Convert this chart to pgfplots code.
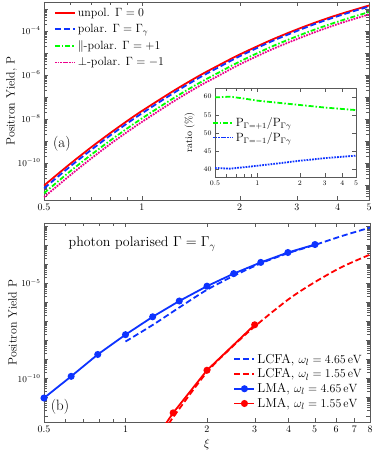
\documentclass[border=0pt]{standalone}
\usepackage{pgfplots}
\usepackage{pgfplotstable}
\pgfplotsset{compat=1.18}

% log10 of the yields, panel (a)
\pgfplotstableread{
x    r      b      g      m
0.5  -11.04 -11.17 -11.39 -11.57
0.6  -10.07 -10.19 -10.41 -10.59
0.7  -9.29  -9.41  -9.63  -9.80
0.8  -8.65  -8.76  -8.99  -9.15
0.9  -8.11  -8.22  -8.45  -8.61
1.0  -7.65  -7.76  -7.99  -8.15
1.25 -6.74  -6.84  -7.07  -7.22
1.5  -6.05  -6.14  -6.38  -6.52
1.75 -5.52  -5.61  -5.85  -5.99
2.0  -5.08  -5.16  -5.40  -5.53
2.5  -4.42  -4.49  -4.73  -4.86
3.0  -3.94  -4.01  -4.25  -4.38
3.5  -3.57  -3.63  -3.88  -4.00
4.0  -3.28  -3.34  -3.59  -3.70
4.5  -3.05  -3.10  -3.35  -3.46
5.0  -2.85  -2.90  -3.15  -3.26
}\tabA

% ratios in %, inset
\pgfplotstableread{
x    g    m
0.5  59.8 40.3
0.64 60.0 40.1
0.8  59.5 40.5
1.0  58.9 40.9
1.5  58.2 41.7
2.0  57.7 42.3
3.0  57.0 43.0
4.0  56.6 43.4
5.0  56.3 43.7
}\tabRatio

% panel (b), log10 values
\pgfplotstableread{
x    lg
0.5  -11.04
0.63 -9.90
0.79 -8.75
1.0  -7.71
1.26 -6.77
1.58 -5.94
2.0  -5.16
2.51 -4.50
3.16 -3.91
3.98 -3.39
5.01 -2.97
}\lmaHi
\pgfplotstableread{
x    lg
1.0  -8.07
1.26 -7.20
1.58 -6.28
2.0  -5.35
2.51 -4.62
3.16 -3.96
3.98 -3.43
5.01 -2.99
6.31 -2.52
8.0  -2.08
}\lcfaHi
\pgfplotstableread{
x    lg
1.26 -13.4
1.5  -11.82
2.0  -9.58
3.0  -7.19
}\lmaLo
\pgfplotstableread{
x    lg
1.45 -12.4
1.5  -12.05
2.0  -9.68
2.5  -8.30
3.0  -7.28
4.0  -5.85
5.0  -4.95
6.3  -4.15
8.0  -3.50
}\lcfaLo

\definecolor{cblue}{rgb}{0.05,0.2,1}

\pgfplotsset{
  every axis/.append style={scale only axis,
    axis line style={black!65}, every tick/.append style={black!65},
    tick label style={font=\normalsize}, yticklabel style={font=\small},
    label style={font=\large}, legend cell align=left},
  legend image code/.code={\draw[mark repeat=2,mark phase=2,#1,sharp plot] plot coordinates {(0bp,0bp) (10bp,0bp) (20bp,0bp)};},
}

\begin{document}
\begin{tikzpicture}
\path[use as bounding box] (0,0) rectangle (374bp,453bp);

% ---------- panel (a)
\begin{axis}[xmode=log, ymode=log, at={(44bp,253bp)}, anchor=south west, width=325bp, height=198bp,
  xmin=0.5, xmax=5, ymin=2e-12, ymax=2.04e-3,
  xtick={0.5,1,2,3,4,5}, xticklabels={0.5,1,2,3,4,5}, minor xtick={0.6,0.7,0.8,0.9},
  ytick={1e-11,1e-10,1e-9,1e-8,1e-7,1e-6,1e-5,1e-4,1e-3},
  yticklabels={{},$10^{-10}$,{},$10^{-8}$,{},$10^{-6}$,{},$10^{-4}$,{}},
  minor ytick={2e-12,3e-12,4e-12,5e-12,6e-12,7e-12,8e-12,9e-12,
    2e-11,3e-11,4e-11,5e-11,6e-11,7e-11,8e-11,9e-11,
    2e-10,3e-10,4e-10,5e-10,6e-10,7e-10,8e-10,9e-10,
    2e-9,3e-9,4e-9,5e-9,6e-9,7e-9,8e-9,9e-9,
    2e-8,3e-8,4e-8,5e-8,6e-8,7e-8,8e-8,9e-8,
    2e-7,3e-7,4e-7,5e-7,6e-7,7e-7,8e-7,9e-7,
    2e-6,3e-6,4e-6,5e-6,6e-6,7e-6,8e-6,9e-6,
    2e-5,3e-5,4e-5,5e-5,6e-5,7e-5,8e-5,9e-5,
    2e-4,3e-4,4e-4,5e-4,6e-4,7e-4,8e-4,9e-4,2e-3},
  ylabel={Positron Yield, P}, ylabel style={yshift=-6pt},
  legend style={at={(0.027,0.985)}, anchor=north west, draw=none, fill=none,
    font=\large, row sep=2.5pt, inner sep=1pt}]
\addplot[red, line width=1.8pt, smooth] table[x=x, y expr={10^(\thisrow{r})}] {\tabA};
\addlegendentry{unpol. $\Gamma=0$}
\addplot[cblue, line width=1.8pt, smooth, dash pattern=on 6pt off 3pt] table[x=x, y expr={10^(\thisrow{b})}] {\tabA};
\addlegendentry{polar. $\Gamma=\Gamma_\gamma$}
\addplot[green, line width=1.8pt, smooth, dash pattern=on 5pt off 2pt on 1.5pt off 2pt] table[x=x, y expr={10^(\thisrow{g})}] {\tabA};
\addlegendentry{$\|$-polar. $\Gamma=+1$}
\addplot[magenta, line width=1.8pt, smooth, dash pattern=on 1.7pt off 1.1pt] table[x=x, y expr={10^(\thisrow{m})}] {\tabA};
\addlegendentry{$\perp$-polar. $\Gamma=-1$}
\node[font=\fontsize{15}{17}\selectfont] at (rel axis cs:0.055,0.285) {(a)};
\end{axis}

% ---------- inset
\begin{axis}[xmode=log, at={(215bp,276bp)}, anchor=south west, width=141bp, height=89bp,
  axis background/.style={fill=white},
  xmin=0.5, xmax=5, ymin=37.8, ymax=62.4,
  xtick={0.5,1,2,3,4,5}, xticklabels={0.5,1,2,3,4,5}, minor xtick={0.6,0.7,0.8,0.9},
  ytick={40,45,50,55,60},
  tick label style={font=\scriptsize}, yticklabel style={font=\scriptsize}, label style={font=\normalsize},
  ylabel={ratio (\%)}, ylabel style={yshift=2pt},
  legend style={at={(-0.03,0.70)}, anchor=north west, draw=none, fill=none,
    font=\large, row sep=0pt, inner sep=1pt}]
\addplot[green, line width=1.8pt, dash pattern=on 5pt off 2pt on 1.5pt off 2pt] table[x=x, y=g] {\tabRatio};
\addlegendentry{$\mathrm{P}_{\Gamma=+1}/\mathrm{P}_{\Gamma\gamma}$}
\addplot[cblue, line width=1.8pt, dash pattern=on 1.7pt off 1.1pt] table[x=x, y=m] {\tabRatio};
\addlegendentry{$\mathrm{P}_{\Gamma=-1}/\mathrm{P}_{\Gamma\gamma}$}
\end{axis}

% ---------- panel (b)
\begin{axis}[xmode=log, ymode=log, at={(44bp,31bp)}, anchor=south west, width=326bp, height=199bp,
  xmin=0.5, xmax=8, ymin=5e-13, ymax=1.45e-2,
  xtick={0.5,1,2,3,4,5,6,7,8}, xticklabels={0.5,1,2,3,4,5,6,7,8}, minor xtick={0.6,0.7,0.8,0.9},
  ytick={1e-12,1e-11,1e-10,1e-9,1e-8,1e-7,1e-6,1e-5,1e-4,1e-3,1e-2},
  yticklabels={{},{},$10^{-10}$,{},{},{},{},$10^{-5}$,{},{},{}},
  xlabel={$\xi$}, ylabel={Positron Yield P}, ylabel style={yshift=-6pt},
  legend style={at={(0.985,0.05)}, anchor=south east, draw=none, fill=none,
    font=\fontsize{13}{15}\selectfont, row sep=0pt, inner sep=1pt}]
\addplot[cblue, line width=1.8pt, smooth, dash pattern=on 6pt off 3pt] table[x=x, y expr={10^(\thisrow{lg})}] {\lcfaHi};
\addlegendentry{LCFA, $\omega_l=4.65\,\mathrm{eV}$}
\addplot[red, line width=1.8pt, smooth, dash pattern=on 6pt off 3pt] table[x=x, y expr={10^(\thisrow{lg})}] {\lcfaLo};
\addlegendentry{LCFA, $\omega_l=1.55\,\mathrm{eV}$}
\addplot[cblue, line width=1.8pt, mark=*, mark size=2.6pt] table[x=x, y expr={10^(\thisrow{lg})}] {\lmaHi};
\addlegendentry{LMA, $\omega_l=4.65\,\mathrm{eV}$}
\addplot[red, line width=1.8pt, mark=*, mark size=2.6pt] table[x=x, y expr={10^(\thisrow{lg})}] {\lmaLo};
\addlegendentry{LMA, $\omega_l=1.55\,\mathrm{eV}$}
\node[font=\fontsize{15}{17}\selectfont] at (rel axis cs:0.049,0.075) {(b)};
\node[anchor=west, font=\fontsize{14}{16}\selectfont] at (rel axis cs:0.065,0.894) {photon polarised $\Gamma=\Gamma_\gamma$};
\end{axis}
\end{tikzpicture}
\end{document}
